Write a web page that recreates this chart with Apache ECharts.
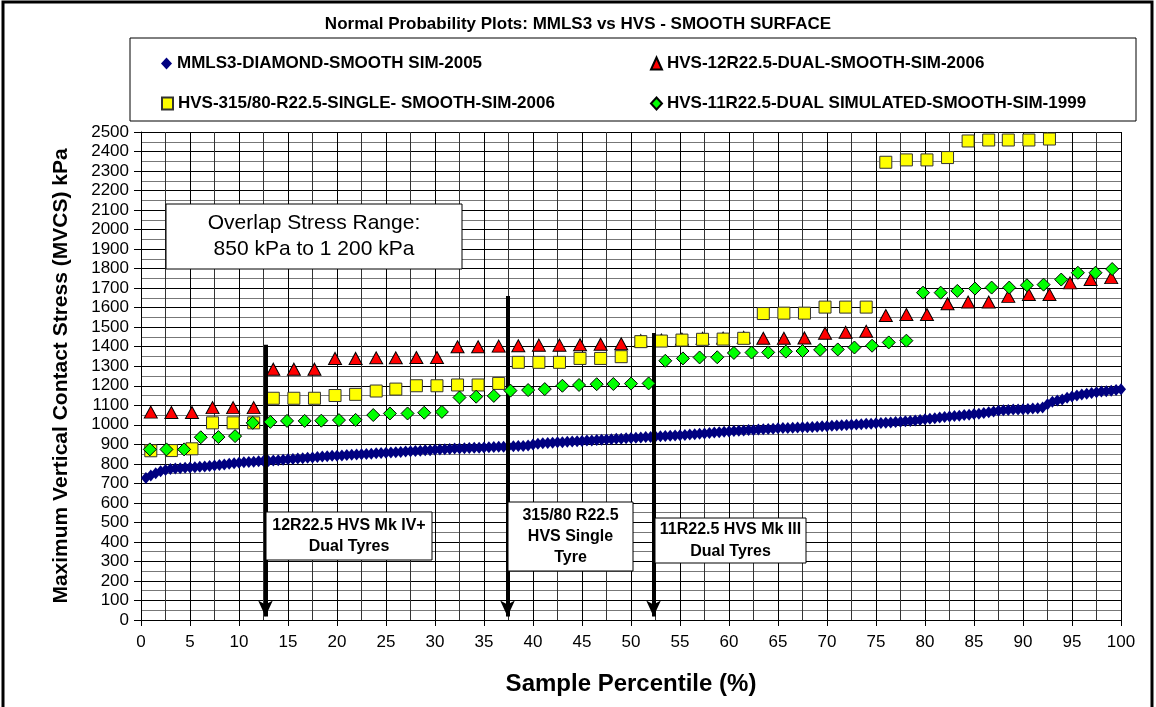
<!DOCTYPE html>
<html>
<head>
<meta charset="utf-8">
<script src="https://cdn.jsdelivr.net/npm/echarts@6/dist/echarts.min.js"></script>
<style>
html,body{margin:0;padding:0;background:#fff;}
#chart{width:1156px;height:707px;}
</style>
</head>
<body>
<div id="chart"></div>
<script>
// ---- Data ----
var seriesNames = [
  'MMLS3-DIAMOND-SMOOTH SIM-2005',
  'HVS-12R22.5-DUAL-SMOOTH-SIM-2006',
  'HVS-315/80-R22.5-SINGLE- SMOOTH-SIM-2006',
  'HVS-11R22.5-DUAL SIMULATED-SMOOTH-SIM-1999'
];

var mmlsX = [0.5,1,1.5,2,2.5,3,3.5,4,4.5,5,5.5,6,6.5,7,7.5,8,8.5,9,9.5,10,
  10.5,11,11.5,12,12.5,13,13.5,14,14.5,15,15.5,16,16.5,17,17.5,18,18.5,19,19.5,20,
  20.5,21,21.5,22,22.5,23,23.5,24,24.5,25,25.5,26,26.5,27,27.5,28,28.5,29,29.5,30,
  30.5,31,31.5,32,32.5,33,33.5,34,34.5,35,35.5,36,36.5,37,37.5,38,38.5,39,39.5,40,
  40.5,41,41.5,42,42.5,43,43.5,44,44.5,45,45.5,46,46.5,47,47.5,48,48.5,49,49.5,50,
  50.5,51,51.5,52,52.5,53,53.5,54,54.5,55,55.5,56,56.5,57,57.5,58,58.5,59,59.5,60,
  60.5,61,61.5,62,62.5,63,63.5,64,64.5,65,65.5,66,66.5,67,67.5,68,68.5,69,69.5,70,
  70.5,71,71.5,72,72.5,73,73.5,74,74.5,75,75.5,76,76.5,77,77.5,78,78.5,79,79.5,80,
  80.5,81,81.5,82,82.5,83,83.5,84,84.5,85,85.5,86,86.5,87,87.5,88,88.5,89,89.5,90,
  90.5,91,91.5,92,92.5,93,93.5,94,94.5,95,95.5,96,96.5,97,97.5,98,98.5,99,99.5,100];
var mmlsY = [728,740,752,762,768,773,776,778,780,781,783,785,787,789,791,794,797,800,803,806,
  808,810,811,813,814,815,817,819,821,823,825,827,829,831,833,835,837,839,841,842,
  843,845,846,848,849,851,852,854,855,857,858,860,861,863,864,866,867,869,870,872,
  873,875,876,878,879,880,881,882,883,884,885,886,887,888,889,890,891,892,894,899,
  903,905,907,908,910,911,913,914,916,917,919,920,922,923,925,926,928,929,931,932,
  934,935,937,938,940,941,942,944,945,947,948,950,952,954,956,958,960,962,964,966,
  968,970,971,973,974,976,977,979,980,982,983,984,985,986,987,988,989,990,992,993,
  995,996,998,999,1000,1002,1003,1005,1006,1008,1009,1011,1012,1014,1016,1018,1020,1022,1025,1028,
  1031,1034,1037,1040,1042,1045,1047,1050,1052,1055,1057,1060,1064,1068,1072,1075,1076,1078,1079,1080,
  1081,1083,1085,1088,1105,1118,1124,1130,1138,1145,1150,1155,1159,1163,1167,1170,1172,1175,1178,1182];

var hvs12X = [1.0,3.1,5.2,7.3,9.4,11.5,13.5,15.6,17.7,19.8,21.9,24.0,26.0,28.1,30.2,32.3,
  34.4,36.5,38.5,40.6,42.7,44.8,46.9,49.0,51.0,53.1,55.2,57.3,59.4,61.5,63.5,65.6,
  67.7,69.8,71.9,74.0,76.0,78.1,80.2,82.3,84.4,86.5,88.5,90.6,92.7,94.8,96.9,99.0];
var hvs12Y = [1065,1063,1063,1088,1088,1088,1285,1285,1285,1340,1340,1343,1343,1345,1345,1400,
  1400,1403,1405,1408,1408,1410,1413,1415,1431,1434,1439,1443,1444,1448,1443,1443,
  1445,1469,1474,1479,1560,1565,1565,1620,1629,1629,1658,1667,1667,1727,1744,1754];

var hvs315X = [1.0,3.1,5.2,7.3,9.4,11.5,13.5,15.6,17.7,19.8,21.9,24.0,26.0,28.1,30.2,32.3,
  34.4,36.5,38.5,40.6,42.7,44.8,46.9,49.0,51.0,53.1,55.2,57.3,59.4,61.5,63.5,65.6,
  67.7,69.8,71.9,74.0,76.0,78.1,80.2,82.3,84.4,86.5,88.5,90.6,92.7];
var hvs315Y = [867,868,877,1010,1010,1010,1136,1136,1136,1150,1156,1173,1183,1200,1200,1204,
  1204,1212,1320,1320,1320,1340,1340,1349,1426,1429,1434,1438,1439,1443,1570,1572,
  1572,1603,1603,1603,2345,2357,2357,2369,2454,2459,2459,2459,2464];

var hvs11X = [0.9,2.6,4.4,6.1,7.9,9.6,11.4,13.2,14.9,16.7,18.4,20.2,21.9,23.7,25.4,27.2,
  28.9,30.7,32.5,34.2,36.0,37.7,39.5,41.2,43.0,44.7,46.5,48.2,50.0,51.8,53.5,55.3,
  57.0,58.8,60.5,62.3,64.0,65.8,67.5,69.3,71.1,72.8,74.6,76.3,78.1,79.8,81.6,83.3,
  85.1,86.8,88.6,90.4,92.1,93.9,95.6,97.4,99.1];
var hvs11Y = [874,874,874,936,937,942,1010,1015,1020,1020,1021,1024,1025,1050,1058,1058,
  1062,1066,1140,1144,1148,1175,1178,1183,1200,1204,1208,1209,1211,1212,1328,1340,
  1345,1346,1368,1370,1371,1375,1378,1384,1386,1396,1405,1422,1431,1677,1677,1686,
  1698,1703,1703,1715,1718,1744,1779,1779,1798];

var xTicks = {min: 0, max: 100, step: 5};
var yTicks = {min: 0, max: 2500, step: 100};

// annotation arrows (percentile, top stress)
var arrowX = [12.7, 37.4, 52.3];
var arrowTop = [1410, 1660, 1470];
var arrowTip = 18;

function pairs(xs, ys) { return xs.map(function (x, i) { return [x, ys[i]]; }); }

var FONT = '"Liberation Sans", Arial, sans-serif';
var chart = echarts.init(document.getElementById('chart'), null, {renderer: 'canvas'});

function legendAt(name, left, top) {
  return {
    data: [name], left: left, top: top, itemWidth: 11, itemHeight: 12,
    selectedMode: false,
    textStyle: {fontFamily: FONT, fontWeight: 'bold', fontSize: 17, color: '#000'}
  };
}

function box(x, y, w, h, lines, size, bold, lineH) {
  var els = [{
    type: 'rect', shape: {x: x, y: y, width: w, height: h},
    style: {fill: '#fff', stroke: '#000', lineWidth: 1}, z: 100
  }];
  var total = lines.length * lineH;
  var y0 = y + (h - total) / 2 + lineH / 2;
  lines.forEach(function (t, i) {
    els.push({
      type: 'text', z: 101,
      style: {
        text: t, x: x + w / 2, y: y0 + i * lineH, textAlign: 'center', textVerticalAlign: 'middle',
        font: (bold ? 'bold ' : '') + size + 'px ' + FONT, fill: '#000'
      }
    });
  });
  return els;
}

var graphics = [
  {type: 'rect', shape: {x: 3, y: 2, width: 1149, height: 720}, style: {fill: 'none', stroke: '#000', lineWidth: 3}, z: 200},
  {type: 'rect', shape: {x: 130, y: 38, width: 1006, height: 83}, style: {fill: 'none', stroke: '#000', lineWidth: 1}, z: 1}
].concat(
  box(166, 204, 296, 65, ['Overlap Stress Range:', '850 kPa to 1 200 kPa'], 21, false, 26),
  box(266, 512, 166, 48, ['12R22.5 HVS Mk IV+', 'Dual Tyres'], 16, true, 21),
  box(508, 502, 125, 69, ['315/80 R22.5', 'HVS Single', 'Tyre'], 16, true, 21),
  box(655, 518, 151, 45, ['11R22.5 HVS Mk III', 'Dual Tyres'], 16, true, 22)
);

var arrowLines = arrowX.map(function (x, i) {
  return [{coord: [x, arrowTop[i]], symbol: 'none'}, {coord: [x, arrowTip], symbol: 'arrow', symbolSize: [11, 16]}];
});

var option = {
  animation: false,
  backgroundColor: '#fff',
  title: {
    text: 'Normal Probability Plots: MMLS3 vs HVS - SMOOTH SURFACE',
    left: 'center', top: 11,
    textStyle: {fontFamily: FONT, fontWeight: 'bold', fontSize: 17, color: '#000'}
  },
  legend: [
    legendAt(seriesNames[0], 156, 50),
    legendAt(seriesNames[1], 645, 50),
    legendAt(seriesNames[2], 156, 90),
    legendAt(seriesNames[3], 645, 90)
  ],
  grid: {left: 141, right: 35, top: 132, bottom: 87, containLabel: false},
  xAxis: {
    type: 'value', min: xTicks.min, max: xTicks.max, interval: xTicks.step,
    name: 'Sample Percentile (%)', nameLocation: 'middle', nameGap: 52,
    nameTextStyle: {fontFamily: FONT, fontWeight: 'bold', fontSize: 24, color: '#000'},
    axisLine: {lineStyle: {color: '#000', width: 1}},
    axisTick: {show: true, length: 6, lineStyle: {color: '#000'}},
    axisLabel: {fontFamily: FONT, fontSize: 17, color: '#000', margin: 14,
      formatter: function (v) { return String(v); }},
    splitLine: {show: true, lineStyle: {color: '#000', width: 1}},
    minorTick: {show: false, splitNumber: 2},
    minorSplitLine: {show: true, lineStyle: {color: '#333', width: 1}}
  },
  yAxis: {
    type: 'value', min: yTicks.min, max: yTicks.max, interval: yTicks.step,
    name: 'Maximum Vertical Contact Stress (MVCS) kPa', nameLocation: 'middle', nameGap: 69,
    nameTextStyle: {fontFamily: FONT, fontWeight: 'bold', fontSize: 21, color: '#000'},
    axisLine: {show: true, lineStyle: {color: '#000', width: 1}},
    axisTick: {show: true, length: 7, lineStyle: {color: '#000'}},
    axisLabel: {fontFamily: FONT, fontSize: 17, color: '#000', margin: 12,
      formatter: function (v) { return String(v); }},
    splitLine: {show: true, lineStyle: {color: '#000', width: 1}},
    minorTick: {show: false, splitNumber: 2},
    minorSplitLine: {show: true, lineStyle: {color: '#777', width: 1}}
  },
  graphic: graphics,
  series: [
    {
      name: seriesNames[0], type: 'scatter', data: pairs(mmlsX, mmlsY),
      symbol: 'diamond', symbolSize: [10, 12], z: 2,
      itemStyle: {color: '#000080', opacity: 1}
    },
    {
      name: seriesNames[1], type: 'scatter', data: pairs(hvs12X, hvs12Y),
      symbol: 'triangle', symbolSize: [13, 12], z: 3,
      itemStyle: {color: '#FF0000', borderColor: '#000', borderWidth: 1, opacity: 1}
    },
    {
      name: seriesNames[2], type: 'scatter', data: pairs(hvs315X, hvs315Y),
      symbol: 'rect', symbolSize: 12, z: 4,
      itemStyle: {color: '#FFFF00', borderColor: '#333', borderWidth: 1, opacity: 1}
    },
    {
      name: seriesNames[3], type: 'scatter', data: pairs(hvs11X, hvs11Y),
      symbol: 'diamond', symbolSize: [13, 13], z: 5,
      itemStyle: {color: '#00FF00', borderColor: '#000', borderWidth: 1, opacity: 1}
    },
    {
      name: 'arrows', type: 'scatter', data: [], z: 6, silent: true,
      markLine: {
        silent: true, animation: false, symbol: ['none', 'arrow'],
        label: {show: false},
        lineStyle: {color: '#000', width: 4, type: 'solid'},
        emphasis: {disabled: true},
        data: arrowLines
      }
    }
  ]
};
chart.setOption(option);
</script>
</body>
</html>
